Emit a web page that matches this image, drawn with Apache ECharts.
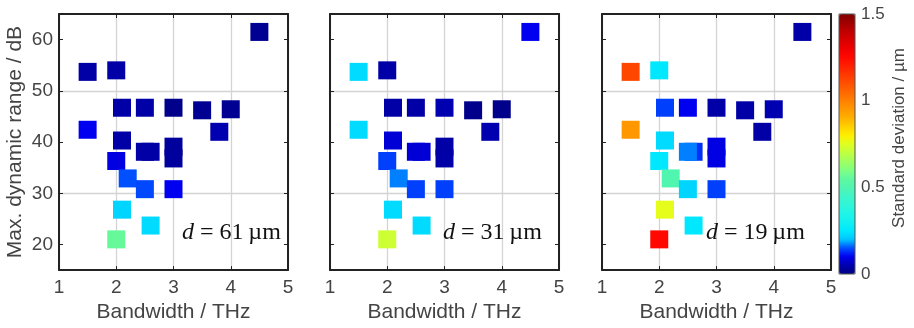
<!DOCTYPE html>
<html>
<head>
<meta charset="utf-8">
<script src="https://cdn.jsdelivr.net/npm/echarts@6/dist/echarts.min.js"></script>
<style>
  html, body { margin: 0; padding: 0; background: #fff; }
  #chart { width: 914px; height: 328px; }
</style>
</head>
<body>
<div id="chart"></div>
<script>
// bandwidth (THz) and max. dynamic range (dB) of each sample, same for all three panels
const bandwidth = [4.5, 1.5, 2.0, 2.1, 2.5, 3.0, 3.5, 4.0, 1.5, 3.8, 2.1, 2.6, 2.5, 3.0, 3.0, 2.0, 2.2, 2.5, 3.0, 2.1, 2.6, 2.0];
const dynRange  = [61.5, 53.7, 54.0, 46.7, 46.7, 46.7, 46.2, 46.4, 42.4, 42.0, 40.3, 38.1, 38.1, 39.1, 36.8, 36.3, 32.9, 30.8, 30.8, 26.8, 23.7, 21.0];

// standard deviation (µm) per sample, one list per thickness
const sd61 = [0.02, 0.04, 0.04, 0.04, 0.04, 0.01, 0.02, 0.02, 0.10, 0.05, 0.04, 0.04, 0.04, 0.03, 0.03, 0.09, 0.15, 0.145, 0.10, 0.22, 0.23, 0.56];
const sd31 = [0.10, 0.23, 0.04, 0.04, 0.04, 0.05, 0.01, 0.01, 0.23, 0.05, 0.08, 0.08, 0.08, 0.04, 0.04, 0.14, 0.17, 0.14, 0.14, 0.23, 0.23, 0.72];
const sd19 = [0.04, 1.12, 0.25, 0.14, 0.10, 0.04, 0.04, 0.05, 0.95, 0.04, 0.23, 0.13, 0.17, 0.09, 0.09, 0.25, 0.50, 0.22, 0.14, 0.76, 0.25, 1.25];

const thickness = ['61', '31', '19'];
const sdSets = [sd61, sd31, sd19];

const xTicks = [1, 2, 3, 4, 5];
const yTicks = [20, 30, 40, 50, 60];
const cbTicks = [0, 0.5, 1, 1.5];

// jet-like colormap with compressed blue end (stops every 0.05 µm)
const cmap = [
  '#000080', '#0000b0', '#0000f0', '#0050ff', '#00c8ff', '#00e8ff', '#10f0f0', '#20f5e8',
  '#30f5d8', '#40f5c8', '#50f5b0', '#60f8a0', '#80ff80', '#a0ff60', '#c0ff40', '#e0ff20',
  '#ffef00', '#ffd000', '#ffb000', '#ff9800', '#ff8000', '#ff6800', '#ff5000', '#ff3800',
  '#ff2000', '#ff0800', '#f00000', '#d80000', '#c00000', '#a00000', '#800000'
];

const SANS = "'Liberation Sans', Arial, sans-serif";
const SERIF = "'Liberation Serif', 'Times New Roman', serif";
const TXT = '#444';
const BOX = '#222';

const gridLefts = [59, 330, 602];
const annLefts = [182, 443, 706];

const chart = echarts.init(document.getElementById('chart'));

const grids = [];
const xAxes = [];
const yAxes = [];
const series = [];

gridLefts.forEach((left, i) => {
  grids.push({ left: left, top: 14, width: 229, height: 260 });
  // bottom x
  xAxes.push({
    gridIndex: i, type: 'value', min: 1, max: 5, interval: 1, position: 'bottom',
    name: 'Bandwidth / THz', nameLocation: 'middle', nameGap: 31,
    nameTextStyle: { fontFamily: SANS, fontSize: 21, color: TXT },
    axisLine: { show: true, onZero: false, lineStyle: { color: BOX, width: 2 } },
    axisTick: { show: true, inside: true, length: 4, lineStyle: { color: BOX } },
    axisLabel: { fontFamily: SANS, fontSize: 19, color: TXT, margin: 8, customValues: xTicks },
    splitLine: { show: true, lineStyle: { color: '#d4d4d4', width: 1.3 } }
  });
  // top x (ticks only)
  xAxes.push({
    gridIndex: i, type: 'value', min: 1, max: 5, interval: 1, position: 'top',
    axisLine: { show: true, onZero: false, lineStyle: { color: BOX, width: 2 } },
    axisTick: { show: true, inside: true, length: 4, lineStyle: { color: BOX } },
    axisLabel: { show: false }, splitLine: { show: false }
  });
  // left y
  yAxes.push({
    gridIndex: i, type: 'value', min: 15, max: 65, interval: 5, position: 'left',
    name: i === 0 ? 'Max. dynamic range / dB' : '', nameLocation: 'middle', nameGap: 33,
    nameTextStyle: { fontFamily: SANS, fontSize: 21, color: TXT },
    axisLine: { show: true, onZero: false, lineStyle: { color: BOX, width: 2 } },
    axisTick: { show: true, inside: true, length: 4, customValues: yTicks, lineStyle: { color: BOX } },
    axisLabel: { show: i === 0, fontFamily: SANS, fontSize: 19, color: TXT, margin: 6, customValues: yTicks },
    splitLine: { show: true, lineStyle: { color: ['transparent', '#d4d4d4'], width: 1.3 } }
  });
  // right y (ticks only)
  yAxes.push({
    gridIndex: i, type: 'value', min: 15, max: 65, interval: 5, position: 'right',
    axisLine: { show: true, onZero: false, lineStyle: { color: BOX, width: 2 } },
    axisTick: { show: true, inside: true, length: 4, customValues: yTicks, lineStyle: { color: BOX } },
    axisLabel: { show: false }, splitLine: { show: false }
  });

  series.push({
    type: 'scatter',
    xAxisIndex: i * 2,
    yAxisIndex: i * 2,
    symbol: 'rect',
    symbolSize: 18,
    silent: true,
    itemStyle: { opacity: 1 },
    data: bandwidth.map((b, k) => [b, dynRange[k], sdSets[i][k]])
  });
});

// colorbar axis
grids.push({ left: 839, top: 14, width: 16, height: 260, show: true, z: 10,
  borderColor: '#555', borderWidth: 1, backgroundColor: 'transparent' });
xAxes.push({ gridIndex: 3, type: 'value', min: 0, max: 1, show: false });
yAxes.push({
  gridIndex: 3, type: 'value', min: 0, max: 1.5, interval: 0.5, position: 'right',
  name: 'Standard deviation / µm', nameLocation: 'middle', nameGap: 36, nameRotate: 90,
  nameTextStyle: { fontFamily: SANS, fontSize: 17, color: TXT, padding: [0, 0, 0, 12] },
  axisLine: { show: false }, axisTick: { show: false },
  axisLabel: { fontFamily: SANS, fontSize: 17, color: TXT, margin: 6, customValues: cbTicks },
  splitLine: { show: false }
});
series.push({ type: 'scatter', xAxisIndex: 6, yAxisIndex: 6, data: [] });

const option = {
  animation: false,
  backgroundColor: '#fff',
  grid: grids,
  xAxis: xAxes,
  yAxis: yAxes,
  visualMap: {
    type: 'continuous',
    min: 0, max: 1.5,
    dimension: 2,
    seriesIndex: [0, 1, 2],
    orient: 'vertical',
    left: 839, top: 14,
    padding: 0,
    itemWidth: 16, itemHeight: 260,
    calculable: false,
    hoverLink: false,
    text: null,
    inRange: { color: cmap }
  },
  graphic: thickness.map((t, i) => ({
    type: 'text',
    left: annLefts[i],
    top: 221,
    z: 100,
    style: {
      text: '{i|d} = ' + t + '\u2009µm',
      fontFamily: SERIF,
      fontSize: 24,
      fill: '#111',
      rich: { i: { fontStyle: 'italic', fontFamily: SERIF, fontSize: 24, fill: '#111' } }
    }
  })),
  series: series
};

chart.setOption(option);
</script>
</body>
</html>
